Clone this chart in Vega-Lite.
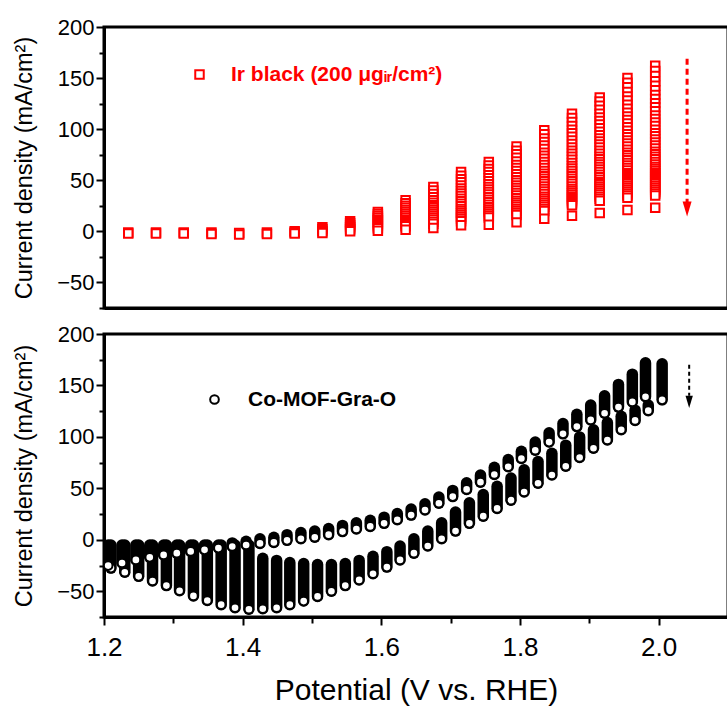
{
"$schema": "https://vega.github.io/schema/vega-lite/v6.json",
"background": "white",
"padding": {"left": 11, "top": 14, "right": 0, "bottom": 0},
"spacing": 10,
"resolve": {"scale": {"color": "independent"}, "legend": {"color": "independent"}},
"config": {
  "font": "Liberation Sans",
  "view": {"stroke": "black", "strokeWidth": 3},
  "axis": {"domainColor": "black", "domainWidth": 3, "tickColor": "black", "tickWidth": 2, "grid": false, "labelColor": "black", "titleColor": "black", "labelFont": "Liberation Sans", "titleFont": "Liberation Sans", "titleFontWeight": "normal"}
},
"vconcat": [
{
  "width": 624, "height": 281,
  "resolve": {"axis": {"y": "independent"}},
  "data": {"values": [
{"p":1.235,"j":-1},{"p":1.235,"j":-2},
{"p":1.275,"j":-1},{"p":1.275,"j":-2},
{"p":1.315,"j":-1},{"p":1.315,"j":-2},
{"p":1.355,"j":-1},{"p":1.355,"j":-2.5},
{"p":1.395,"j":-1.5},{"p":1.395,"j":-3},
{"p":1.435,"j":-1},{"p":1.435,"j":-2.5},
{"p":1.475,"j":0},{"p":1.475,"j":-1},{"p":1.475,"j":-2},
{"p":1.515,"j":4},{"p":1.515,"j":2},{"p":1.515,"j":0},{"p":1.515,"j":-1.5},
{"p":1.555,"j":10},{"p":1.555,"j":8},{"p":1.555,"j":6},{"p":1.555,"j":4},{"p":1.555,"j":2},{"p":1.555,"j":0},
{"p":1.595,"j":19},{"p":1.595,"j":17},{"p":1.595,"j":15},{"p":1.595,"j":13},{"p":1.595,"j":11},{"p":1.595,"j":9},{"p":1.595,"j":7},{"p":1.595,"j":5},{"p":1.595,"j":3},{"p":1.595,"j":0.7},
{"p":1.635,"j":30.5},{"p":1.635,"j":27.5},{"p":1.635,"j":25},{"p":1.635,"j":23},{"p":1.635,"j":21},{"p":1.635,"j":19},{"p":1.635,"j":17},{"p":1.635,"j":15},{"p":1.635,"j":13},{"p":1.635,"j":11},{"p":1.635,"j":9},{"p":1.635,"j":7},{"p":1.635,"j":5},{"p":1.635,"j":1.6},
{"p":1.675,"j":43.5},{"p":1.675,"j":40},{"p":1.675,"j":36.5},{"p":1.675,"j":33.5},{"p":1.675,"j":30.5},{"p":1.675,"j":28},{"p":1.675,"j":25.5},{"p":1.675,"j":23.5},{"p":1.675,"j":21.5},{"p":1.675,"j":19.5},{"p":1.675,"j":17.5},{"p":1.675,"j":15.5},{"p":1.675,"j":13.5},{"p":1.675,"j":11.5},{"p":1.675,"j":9.5},{"p":1.675,"j":7.5},{"p":1.675,"j":3.3},
{"p":1.715,"j":58},{"p":1.715,"j":54.5},{"p":1.715,"j":51},{"p":1.715,"j":48},{"p":1.715,"j":45},{"p":1.715,"j":42},{"p":1.715,"j":39.5},{"p":1.715,"j":37},{"p":1.715,"j":34.5},{"p":1.715,"j":32},{"p":1.715,"j":29.5},{"p":1.715,"j":27},{"p":1.715,"j":24.5},{"p":1.715,"j":22},{"p":1.715,"j":20},{"p":1.715,"j":18},{"p":1.715,"j":16},{"p":1.715,"j":14},{"p":1.715,"j":12},{"p":1.715,"j":10},{"p":1.715,"j":5.9},
{"p":1.755,"j":68},{"p":1.755,"j":64.5},{"p":1.755,"j":61},{"p":1.755,"j":58},{"p":1.755,"j":55},{"p":1.755,"j":52},{"p":1.755,"j":49},{"p":1.755,"j":46},{"p":1.755,"j":43.5},{"p":1.755,"j":41},{"p":1.755,"j":38.5},{"p":1.755,"j":36},{"p":1.755,"j":33.5},{"p":1.755,"j":31},{"p":1.755,"j":28.5},{"p":1.755,"j":26},{"p":1.755,"j":23.5},{"p":1.755,"j":21.5},{"p":1.755,"j":19.5},{"p":1.755,"j":17.5},{"p":1.755,"j":15.5},{"p":1.755,"j":13.5},{"p":1.755,"j":6.5},
{"p":1.795,"j":83},{"p":1.795,"j":79},{"p":1.795,"j":75.5},{"p":1.795,"j":72},{"p":1.795,"j":68.5},{"p":1.795,"j":65},{"p":1.795,"j":62},{"p":1.795,"j":59},{"p":1.795,"j":56},{"p":1.795,"j":53},{"p":1.795,"j":50},{"p":1.795,"j":47.5},{"p":1.795,"j":45},{"p":1.795,"j":42.5},{"p":1.795,"j":40},{"p":1.795,"j":37.5},{"p":1.795,"j":35},{"p":1.795,"j":32.5},{"p":1.795,"j":30},{"p":1.795,"j":28},{"p":1.795,"j":26},{"p":1.795,"j":24},{"p":1.795,"j":22},{"p":1.795,"j":20},{"p":1.795,"j":18},{"p":1.795,"j":16},{"p":1.795,"j":8.8},
{"p":1.835,"j":99},{"p":1.835,"j":95},{"p":1.835,"j":91},{"p":1.835,"j":87.5},{"p":1.835,"j":84},{"p":1.835,"j":80.5},{"p":1.835,"j":77},{"p":1.835,"j":74},{"p":1.835,"j":71},{"p":1.835,"j":68},{"p":1.835,"j":65},{"p":1.835,"j":62},{"p":1.835,"j":59},{"p":1.835,"j":56.5},{"p":1.835,"j":54},{"p":1.835,"j":51.5},{"p":1.835,"j":49},{"p":1.835,"j":46.5},{"p":1.835,"j":44},{"p":1.835,"j":41.5},{"p":1.835,"j":39},{"p":1.835,"j":36.5},{"p":1.835,"j":34},{"p":1.835,"j":32},{"p":1.835,"j":30},{"p":1.835,"j":28},{"p":1.835,"j":26},{"p":1.835,"j":24},{"p":1.835,"j":22},{"p":1.835,"j":20},{"p":1.835,"j":12.4},
{"p":1.875,"j":115},{"p":1.875,"j":111},{"p":1.875,"j":107},{"p":1.875,"j":103},{"p":1.875,"j":99.5},{"p":1.875,"j":96},{"p":1.875,"j":92.5},{"p":1.875,"j":89},{"p":1.875,"j":85.5},{"p":1.875,"j":82},{"p":1.875,"j":79},{"p":1.875,"j":76},{"p":1.875,"j":73},{"p":1.875,"j":70},{"p":1.875,"j":67},{"p":1.875,"j":64},{"p":1.875,"j":61.5},{"p":1.875,"j":59},{"p":1.875,"j":56.5},{"p":1.875,"j":54},{"p":1.875,"j":51.5},{"p":1.875,"j":49},{"p":1.875,"j":46.5},{"p":1.875,"j":44},{"p":1.875,"j":41.5},{"p":1.875,"j":39.5},{"p":1.875,"j":37.5},{"p":1.875,"j":35.5},{"p":1.875,"j":33.5},{"p":1.875,"j":31.5},{"p":1.875,"j":29.5},{"p":1.875,"j":27.5},{"p":1.875,"j":25.5},{"p":1.875,"j":15.3},
{"p":1.915,"j":131},{"p":1.915,"j":127},{"p":1.915,"j":123},{"p":1.915,"j":119},{"p":1.915,"j":115},{"p":1.915,"j":111.5},{"p":1.915,"j":108},{"p":1.915,"j":104.5},{"p":1.915,"j":101},{"p":1.915,"j":97.5},{"p":1.915,"j":94},{"p":1.915,"j":91},{"p":1.915,"j":88},{"p":1.915,"j":85},{"p":1.915,"j":82},{"p":1.915,"j":79},{"p":1.915,"j":76},{"p":1.915,"j":73},{"p":1.915,"j":70.5},{"p":1.915,"j":68},{"p":1.915,"j":65.5},{"p":1.915,"j":63},{"p":1.915,"j":60.5},{"p":1.915,"j":58},{"p":1.915,"j":55.5},{"p":1.915,"j":53},{"p":1.915,"j":50.5},{"p":1.915,"j":48},{"p":1.915,"j":46},{"p":1.915,"j":44},{"p":1.915,"j":42},{"p":1.915,"j":40},{"p":1.915,"j":38},{"p":1.915,"j":36},{"p":1.915,"j":34},{"p":1.915,"j":32},{"p":1.915,"j":30},{"p":1.915,"j":18},
{"p":1.955,"j":150},{"p":1.955,"j":145.5},{"p":1.955,"j":141},{"p":1.955,"j":136.5},{"p":1.955,"j":132},{"p":1.955,"j":128},{"p":1.955,"j":124},{"p":1.955,"j":120},{"p":1.955,"j":116},{"p":1.955,"j":112.5},{"p":1.955,"j":109},{"p":1.955,"j":105.5},{"p":1.955,"j":102},{"p":1.955,"j":98.5},{"p":1.955,"j":95},{"p":1.955,"j":92},{"p":1.955,"j":89},{"p":1.955,"j":86},{"p":1.955,"j":83},{"p":1.955,"j":80},{"p":1.955,"j":77},{"p":1.955,"j":74.5},{"p":1.955,"j":72},{"p":1.955,"j":69.5},{"p":1.955,"j":67},{"p":1.955,"j":64.5},{"p":1.955,"j":62},{"p":1.955,"j":59.5},{"p":1.955,"j":57},{"p":1.955,"j":55},{"p":1.955,"j":53},{"p":1.955,"j":51},{"p":1.955,"j":49},{"p":1.955,"j":47},{"p":1.955,"j":45},{"p":1.955,"j":43},{"p":1.955,"j":41},{"p":1.955,"j":39},{"p":1.955,"j":37},{"p":1.955,"j":35},{"p":1.955,"j":33},{"p":1.955,"j":21},
{"p":1.995,"j":162},{"p":1.995,"j":157},{"p":1.995,"j":152},{"p":1.995,"j":147},{"p":1.995,"j":142.5},{"p":1.995,"j":138},{"p":1.995,"j":133.5},{"p":1.995,"j":129.5},{"p":1.995,"j":125.5},{"p":1.995,"j":121.5},{"p":1.995,"j":117.5},{"p":1.995,"j":113.5},{"p":1.995,"j":110},{"p":1.995,"j":106.5},{"p":1.995,"j":103},{"p":1.995,"j":99.5},{"p":1.995,"j":96},{"p":1.995,"j":93},{"p":1.995,"j":90},{"p":1.995,"j":87},{"p":1.995,"j":84},{"p":1.995,"j":81},{"p":1.995,"j":78},{"p":1.995,"j":75.5},{"p":1.995,"j":73},{"p":1.995,"j":70.5},{"p":1.995,"j":68},{"p":1.995,"j":65.5},{"p":1.995,"j":63},{"p":1.995,"j":61},{"p":1.995,"j":59},{"p":1.995,"j":57},{"p":1.995,"j":55},{"p":1.995,"j":53},{"p":1.995,"j":51},{"p":1.995,"j":49},{"p":1.995,"j":47},{"p":1.995,"j":45},{"p":1.995,"j":43},{"p":1.995,"j":41},{"p":1.995,"j":39},{"p":1.995,"j":37},{"p":1.995,"j":35},{"p":1.995,"j":23}
  ]},
  "layer": [
    {
      "mark": {"type": "point", "shape": "square", "size": 72, "strokeWidth": 2, "fill": "white", "fillOpacity": 1, "opacity": 1},
      "encoding": {
        "x": {"field": "p", "type": "quantitative", "scale": {"domain": [1.2, 2.1], "nice": false, "zero": false}, "axis": {"title": null, "labels": false, "ticks": false}},
        "y": {"field": "j", "type": "quantitative", "scale": {"domain": [-75, 200], "nice": false, "zero": false},
              "axis": {"orient": "left", "title": "Current density (mA/cm²)", "values": [-50,0,50,100,150,200], "format": "d", "labelOverlap": false, "tickSize": 8, "labelPadding": 2, "labelFontSize": 22, "titleFontSize": 23.5, "titlePadding": 20}},
        "color": {"datum": "Ir black (200 μgᵢᵣ/cm²)", "type": "nominal", "scale": {"range": ["#ff0000"]},
                  "legend": {"orient": "none", "legendX": 85, "legendY": 37, "padding": 0, "title": null, "labelFontSize": 21, "labelFontWeight": "bold", "labelColor": "#ff0000", "labelLimit": 500, "labelOffset": 21, "symbolType": "square", "symbolSize": 72, "symbolStrokeWidth": 2, "symbolFillColor": "white", "symbolStrokeColor": "#ff0000"}}
      }
    },
    {
      "data": {"values": [{"p": 2.041, "y": 169, "y2": 28}]},
      "mark": {"type": "rule", "color": "#ff0000", "strokeWidth": 3, "strokeDash": [6, 4]},
      "encoding": {"x": {"field": "p", "type": "quantitative"},
                   "y": {"field": "y", "type": "quantitative", "axis": {"orient": "left", "values": [-75,-25,25,75,125,175], "labels": false, "title": null, "domain": false, "tickSize": 5}},
                   "y2": {"field": "y2"}}
    },
    {
      "data": {"values": [{"p": 2.041, "y": 22}]},
      "mark": {"type": "point", "shape": "M-0.6,-1L0.6,-1L0,1Z", "size": 225, "filled": true, "color": "#ff0000", "opacity": 1},
      "encoding": {"x": {"field": "p", "type": "quantitative"}, "y": {"field": "y", "type": "quantitative", "axis": null}}
    }
  ]
},
{
  "width": 624, "height": 283,
  "resolve": {"axis": {"x": "independent", "y": "independent"}},
  "data": {"values": [
{"b":"L","p":1.210,"t":-5,"w":-27.5},{"b":"U","p":1.206,"t":-5,"w":-25},
{"b":"L","p":1.230,"t":-5,"w":-31.5},{"b":"U","p":1.226,"t":-5,"w":-22.5},
{"b":"L","p":1.250,"t":-5,"w":-35.5},{"b":"U","p":1.246,"t":-5,"w":-19.5},
{"b":"L","p":1.270,"t":-5,"w":-40},{"b":"U","p":1.266,"t":-5,"w":-17},
{"b":"L","p":1.290,"t":-5,"w":-44.5},{"b":"U","p":1.286,"t":-5,"w":-14.7},
{"b":"L","p":1.309,"t":-5,"w":-49.5},{"b":"U","p":1.305,"t":-5,"w":-13},
{"b":"L","p":1.329,"t":-5,"w":-54.5},{"b":"U","p":1.325,"t":-5,"w":-11.3},
{"b":"L","p":1.349,"t":-5,"w":-59},{"b":"U","p":1.345,"t":-5,"w":-9.7},
{"b":"L","p":1.369,"t":-5,"w":-63},{"b":"U","p":1.365,"t":-5,"w":-8},
{"b":"L","p":1.389,"t":-5,"w":-66},{"b":"U","p":1.385,"t":-3,"w":-6.5},
{"b":"L","p":1.409,"t":-5,"w":-67.5},{"b":"U","p":1.405,"t":-1.5,"w":-5},
{"b":"L","p":1.429,"t":-18,"w":-67},{"b":"U","p":1.425,"t":1,"w":-3.5},
{"b":"L","p":1.449,"t":-20,"w":-66},{"b":"U","p":1.445,"t":2.5,"w":-2.5},
{"b":"L","p":1.468,"t":-22,"w":-63},{"b":"U","p":1.464,"t":5,"w":-0.5},
{"b":"L","p":1.488,"t":-23,"w":-59.5},{"b":"U","p":1.484,"t":7,"w":1},
{"b":"L","p":1.508,"t":-24,"w":-55},{"b":"U","p":1.504,"t":8.5,"w":2.5},
{"b":"L","p":1.528,"t":-24,"w":-50},{"b":"U","p":1.524,"t":11,"w":5},
{"b":"L","p":1.548,"t":-23,"w":-44.5},{"b":"U","p":1.544,"t":14,"w":8},
{"b":"L","p":1.568,"t":-20,"w":-39},{"b":"U","p":1.564,"t":16.5,"w":10.5},
{"b":"L","p":1.588,"t":-16,"w":-33},{"b":"U","p":1.584,"t":19,"w":13},
{"b":"L","p":1.608,"t":-11.5,"w":-26.5},{"b":"U","p":1.604,"t":22,"w":16},
{"b":"L","p":1.627,"t":-6,"w":-19.5},{"b":"U","p":1.623,"t":25.5,"w":19.5},
{"b":"L","p":1.647,"t":1,"w":-13},{"b":"U","p":1.643,"t":30,"w":24},
{"b":"L","p":1.667,"t":8.5,"w":-6},{"b":"U","p":1.663,"t":35,"w":29},
{"b":"L","p":1.687,"t":16.5,"w":1},{"b":"U","p":1.683,"t":41.5,"w":35.5},
{"b":"L","p":1.707,"t":27,"w":8.5},{"b":"U","p":1.703,"t":48,"w":42},
{"b":"L","p":1.727,"t":36,"w":16},{"b":"U","p":1.723,"t":55.5,"w":49},
{"b":"L","p":1.747,"t":44,"w":23},{"b":"U","p":1.743,"t":63,"w":56},
{"b":"L","p":1.767,"t":52,"w":30.5},{"b":"U","p":1.763,"t":70.5,"w":63.5},
{"b":"L","p":1.787,"t":60,"w":38.5},{"b":"U","p":1.783,"t":78,"w":71},
{"b":"L","p":1.806,"t":68,"w":46.5},{"b":"U","p":1.802,"t":86,"w":79},
{"b":"L","p":1.826,"t":76,"w":55},{"b":"U","p":1.822,"t":95,"w":87},
{"b":"L","p":1.846,"t":84,"w":63},{"b":"U","p":1.842,"t":104,"w":95},
{"b":"L","p":1.866,"t":92,"w":71.5},{"b":"U","p":1.862,"t":113,"w":103},
{"b":"L","p":1.886,"t":100,"w":80},{"b":"U","p":1.882,"t":122,"w":110},
{"b":"L","p":1.906,"t":107,"w":89},{"b":"U","p":1.902,"t":131,"w":116.5},
{"b":"L","p":1.926,"t":114,"w":97},{"b":"U","p":1.922,"t":140,"w":123},
{"b":"L","p":1.946,"t":120,"w":107},{"b":"U","p":1.942,"t":151,"w":129},
{"b":"L","p":1.966,"t":126,"w":116},{"b":"U","p":1.962,"t":161,"w":134},
{"b":"L","p":1.985,"t":131,"w":125.5},{"b":"U","p":1.981,"t":172,"w":139},
{"b":"L","p":2.005,"t":171,"w":136}
  ]},
  "layer": [
    {
      "mark": {"type": "rule", "color": "black", "strokeWidth": 11.5, "strokeCap": "round", "clip": true},
      "encoding": {
        "x": {"field": "p", "type": "quantitative", "scale": {"domain": [1.2, 2.1], "nice": false, "zero": false},
              "axis": {"orient": "bottom", "title": "Potential (V vs. RHE)", "values": [1.2,1.4,1.6,1.8,2.0], "format": ".1f", "labelOverlap": false, "labelFlush": false, "tickSize": 8, "labelPadding": 9, "labelFontSize": 26, "titleFontSize": 30, "titlePadding": 15}},
        "y": {"field": "t", "type": "quantitative", "scale": {"domain": [-75, 200], "nice": false, "zero": false},
              "axis": {"orient": "left", "title": "Current density (mA/cm²)", "values": [-50,0,50,100,150,200], "format": "d", "labelOverlap": false, "tickSize": 8, "labelPadding": 2, "labelFontSize": 22, "titleFontSize": 23.5, "titlePadding": 20}},
        "y2": {"field": "w"}
      }
    },
    {
      "mark": {"type": "point", "shape": "circle", "size": 75, "strokeWidth": 2, "fill": "white", "fillOpacity": 1, "opacity": 1, "clip": true},
      "encoding": {
        "x": {"field": "p", "type": "quantitative", "axis": null},
        "y": {"field": "w", "type": "quantitative", "axis": null},
        "color": {"datum": "Co-MOF-Gra-O", "type": "nominal", "scale": {"range": ["black"]},
                  "legend": {"orient": "none", "legendX": 100, "legendY": 55, "padding": 0, "title": null, "labelFontSize": 21, "labelFontWeight": "bold", "labelColor": "black", "labelLimit": 500, "labelOffset": 23, "symbolType": "circle", "symbolSize": 75, "symbolStrokeWidth": 2, "symbolFillColor": "white", "symbolStrokeColor": "black"}}
      }
    },
    {
      "data": {"values": [{"p": 2.044, "y": 170, "y2": 140}]},
      "mark": {"type": "rule", "color": "black", "strokeWidth": 2, "strokeDash": [4, 3]},
      "encoding": {"x": {"field": "p", "type": "quantitative", "axis": {"orient": "bottom", "values": [1.3,1.5,1.7,1.9,2.1], "labels": false, "title": null, "domain": false, "tickSize": 6}},
                   "y": {"field": "y", "type": "quantitative", "axis": {"orient": "left", "values": [-75,-25,25,75,125,175], "labels": false, "title": null, "domain": false, "tickSize": 5}},
                   "y2": {"field": "y2"}}
    },
    {
      "data": {"values": [{"p": 2.044, "y": 134}]},
      "mark": {"type": "point", "shape": "M-0.6,-1L0.6,-1L0,1Z", "size": 150, "filled": true, "color": "black", "opacity": 1},
      "encoding": {"x": {"field": "p", "type": "quantitative", "axis": null}, "y": {"field": "y", "type": "quantitative", "axis": null}}
    }
  ]
}
]
}
